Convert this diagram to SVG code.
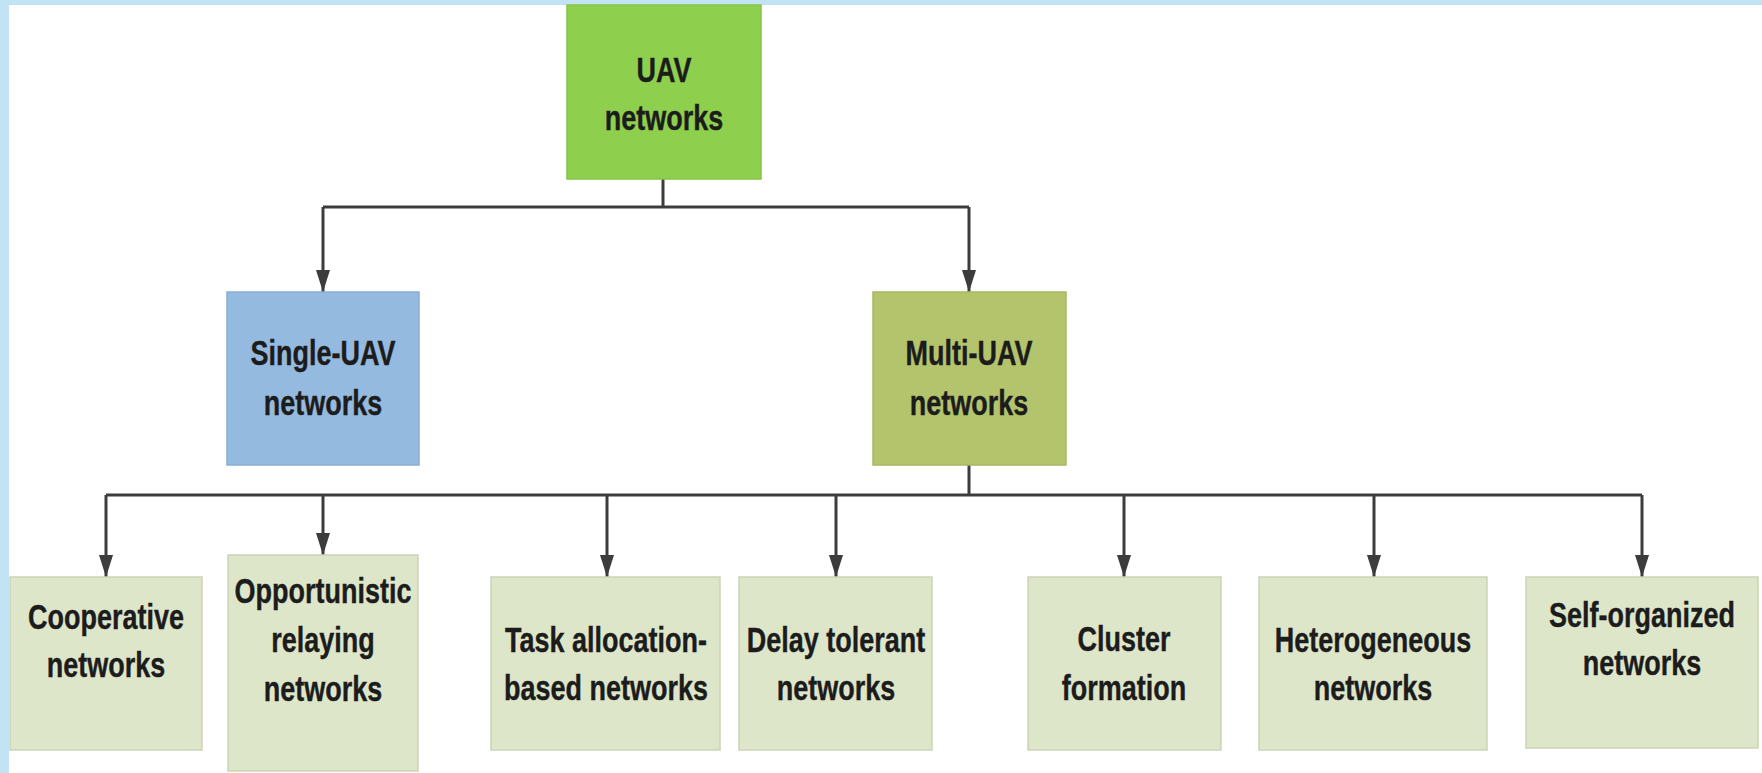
<svg xmlns="http://www.w3.org/2000/svg" width="1762" height="773" viewBox="0 0 1762 773">
  <style>
    .box { stroke-width: 1.5; }
    .root { fill: #8ed04e; stroke: #86c446; }
    .single { fill: #95badf; stroke: #8aaed2; }
    .multi { fill: #b3c46c; stroke: #a8b862; }
    .leaf { fill: #dee6ca; stroke: #ccd4b6; }
    .lbl { font-family: "Liberation Sans", Arial, sans-serif; font-weight: bold; font-size: 27px; fill: #1c1c1c; text-anchor: middle; stroke: #1c1c1c; stroke-width: 0.3; }
    .wire { fill: none; stroke: #3c3c3c; stroke-width: 3; }
  </style>
  <defs>
    <marker id="arrow" viewBox="0 0 22 14" markerWidth="22" markerHeight="14" refX="22" refY="7" orient="auto" markerUnits="userSpaceOnUse">
      <path d="M0,0 L22,7 L0,14 z" fill="#3c3c3c"/>
    </marker>
  </defs>

  <!-- page frame -->
  <rect x="0" y="0" width="1762" height="773" fill="#ffffff"/>
  <rect x="0" y="0" width="1762" height="5" fill="#c2e3f4"/>
  <rect x="0" y="0" width="9" height="773" fill="#c2e3f4"/>

  <!-- connectors -->
  <g id="connectors">
    <path class="wire" d="M663,179 V207"/>
    <path class="wire" d="M323,207 H969"/>
    <path class="wire" d="M323,207 V292" marker-end="url(#arrow)"/>
    <path class="wire" d="M969,207 V292" marker-end="url(#arrow)"/>
    <path class="wire" d="M969,465 V495"/>
    <path class="wire" d="M106,495 H1642"/>
    <path class="wire" d="M106,495 V577" marker-end="url(#arrow)"/>
    <path class="wire" d="M323,495 V555" marker-end="url(#arrow)"/>
    <path class="wire" d="M607,495 V577" marker-end="url(#arrow)"/>
    <path class="wire" d="M836,495 V577" marker-end="url(#arrow)"/>
    <path class="wire" d="M1124,495 V577" marker-end="url(#arrow)"/>
    <path class="wire" d="M1374,495 V577" marker-end="url(#arrow)"/>
    <path class="wire" d="M1642,495 V577" marker-end="url(#arrow)"/>
  </g>

  <!-- top level -->
  <g id="uav-networks">
    <rect class="box root" x="567" y="5" width="194" height="174"/>
    <text class="lbl" transform="translate(664,82) scale(1,1.32)"><tspan x="0" dy="0">UAV</tspan><tspan x="0" dy="36.4">networks</tspan></text>
  </g>

  <!-- second level -->
  <g id="single-uav">
    <rect class="box single" x="227" y="292" width="192" height="173"/>
    <text class="lbl" transform="translate(323,365) scale(1,1.32)"><tspan x="0" dy="0">Single-UAV</tspan><tspan x="0" dy="37.9">networks</tspan></text>
  </g>
  <g id="multi-uav">
    <rect class="box multi" x="873" y="292" width="193" height="173"/>
    <text class="lbl" transform="translate(969,365) scale(1,1.32)"><tspan x="0" dy="0">Multi-UAV</tspan><tspan x="0" dy="37.9">networks</tspan></text>
  </g>

  <!-- multi-UAV categories -->
  <g id="cooperative">
    <rect class="box leaf" x="10" y="577" width="192" height="173"/>
    <text class="lbl" transform="translate(106,629) scale(1,1.32)"><tspan x="0" dy="0">Cooperative</tspan><tspan x="0" dy="36.4">networks</tspan></text>
  </g>
  <g id="opportunistic">
    <rect class="box leaf" x="228" y="555" width="190" height="216"/>
    <text class="lbl" transform="translate(323,603) scale(1,1.32)"><tspan x="0" dy="0">Opportunistic</tspan><tspan x="0" dy="37.1">relaying</tspan><tspan x="0" dy="37.1">networks</tspan></text>
  </g>
  <g id="task-allocation">
    <rect class="box leaf" x="491" y="577" width="229" height="173"/>
    <text class="lbl" transform="translate(606,652) scale(1,1.32)"><tspan x="0" dy="0">Task allocation-</tspan><tspan x="0" dy="36.4">based networks</tspan></text>
  </g>
  <g id="delay-tolerant">
    <rect class="box leaf" x="739" y="577" width="193" height="173"/>
    <text class="lbl" transform="translate(836,652) scale(1,1.32)"><tspan x="0" dy="0">Delay tolerant</tspan><tspan x="0" dy="36.4">networks</tspan></text>
  </g>
  <g id="cluster-formation">
    <rect class="box leaf" x="1028" y="577" width="193" height="173"/>
    <text class="lbl" transform="translate(1124,651) scale(1,1.32)"><tspan x="0" dy="0">Cluster</tspan><tspan x="0" dy="37.1">formation</tspan></text>
  </g>
  <g id="heterogeneous">
    <rect class="box leaf" x="1259" y="577" width="228" height="173"/>
    <text class="lbl" transform="translate(1373,652) scale(1,1.32)"><tspan x="0" dy="0">Heterogeneous</tspan><tspan x="0" dy="36.4">networks</tspan></text>
  </g>
  <g id="self-organized">
    <rect class="box leaf" x="1526" y="577" width="232" height="171"/>
    <text class="lbl" transform="translate(1642,627) scale(1,1.32)"><tspan x="0" dy="0">Self-organized</tspan><tspan x="0" dy="36.4">networks</tspan></text>
  </g>
</svg>
